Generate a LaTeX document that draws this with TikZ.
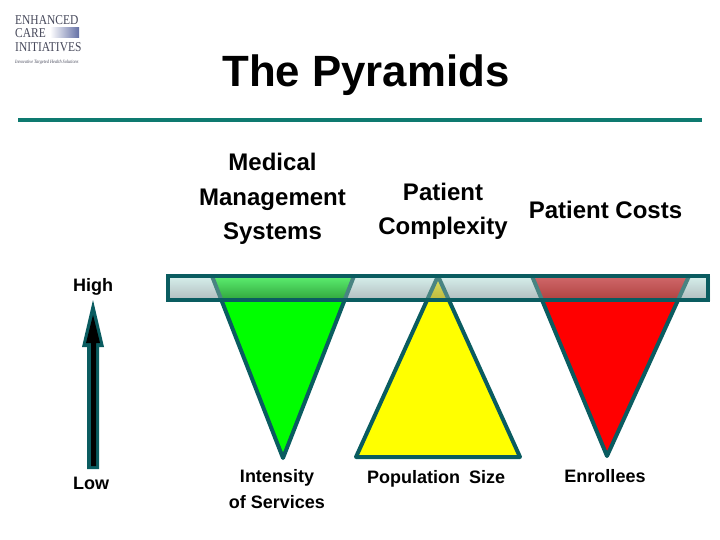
\documentclass[tikz,border=0pt]{standalone}
\usepackage{fontspec}
\setmainfont{Liberation Sans}
\newfontfamily\logofont[FakeStretch=0.85]{Liberation Serif}
\usepackage{xcolor}
\usetikzlibrary{arrows.meta, calc}
\definecolor{cTeal}{RGB}{10,92,96}
\definecolor{cEdge}{RGB}{72,132,130}
\definecolor{cRule}{RGB}{14,122,112}
\definecolor{cLogo}{RGB}{100,112,165}
\definecolor{cLogoText}{RGB}{70,72,90}
\definecolor{cBarTop}{RGB}{214,240,236}
\definecolor{cBarBot}{RGB}{178,188,190}
\definecolor{cGreen}{RGB}{0,255,0}
\definecolor{cGreenTop}{RGB}{92,238,112}
\definecolor{cGreenBot}{RGB}{48,165,60}
\definecolor{cYellow}{RGB}{255,255,0}
\definecolor{cYellowTop}{RGB}{218,225,100}
\definecolor{cYellowBot}{RGB}{190,185,60}
\definecolor{cRed}{RGB}{255,0,0}
\definecolor{cRedTop}{RGB}{208,104,106}
\definecolor{cRedBot}{RGB}{176,66,64}
\tikzset{
	pyramid/.style  ={draw=cTeal, line width=4pt, line join=round},
	barframe/.style ={draw=cTeal, line width=4pt},
	heading/.style  ={font=\bfseries\fontsize{24}{34.5}\selectfont, align=center},
	small/.style    ={font=\bfseries\fontsize{18}{26}\selectfont, align=center},
	logotxt/.style  ={font=\logofont\fontsize{13.5}{13.5}\selectfont, text=cLogoText, anchor=west, inner sep=0pt},
}
\begin{document}
\begin{tikzpicture}[x=1pt,y=-1pt]
	\useasboundingbox (0,0) rectangle (720,540);
	% logo
	\shade[left color=white, right color=cLogo] (50,28) rectangle (79,38);
	\node[logotxt] (logoA) at (15,20) {ENHANCED};
	\node[logotxt] (logoB) at (15,33.5) {CARE};
	\node[logotxt] (logoC) at (15,47) {INITIATIVES};
	\node[logotxt, font=\logofont\itshape\fontsize{5}{6}\selectfont] (logoD) at (15,62) {Innovative Targeted Health Solutions};
	% title
	\node[font=\bfseries\fontsize{43.8}{50}\selectfont] (title) at (366,75) {The Pyramids};
	\draw[cRule, line width=4pt] (18,120) -- (702,120);
	% headings
	\node[heading] (medical) at (272.5,199) {Medical\\Management\\Systems};
	\node[heading, font=\bfseries\fontsize{24}{34}\selectfont] (patient) at (443,211) {Patient\\Complexity};
	\node[heading] (costs) at (605.5,210) {Patient Costs};
	% pyramids
	\draw[pyramid, fill=cGreen] (212,276) -- (354,276) -- (283,458) -- cycle;
	\draw[pyramid, fill=cYellow] (438,276) -- (520,457) -- (356,457) -- cycle;
	\draw[pyramid, fill=cRed] (532,276) -- (689,276) -- (607,456) -- cycle;
	% bar on top
	\shade[top color=cBarTop, bottom color=cBarBot] (166,276) rectangle (710,300);
	\begin{scope}
		\clip (212,276) -- (354,276) -- (283,458) -- cycle;
		\shade[top color=cGreenTop, bottom color=cGreenBot] (166,276) rectangle (710,300);
	\end{scope}
	\begin{scope}
		\clip (438,276) -- (520,457) -- (356,457) -- cycle;
		\shade[top color=cYellowTop, bottom color=cYellowBot] (166,276) rectangle (710,300);
	\end{scope}
	\begin{scope}
		\clip (532,276) -- (689,276) -- (607,456) -- cycle;
		\shade[top color=cRedTop, bottom color=cRedBot] (166,276) rectangle (710,300);
	\end{scope}
	\begin{scope}
		\clip (166,276) rectangle (710,300);
		\draw[pyramid, draw=cEdge] (212,276) -- (283,458) (354,276) -- (283,458);
		\draw[pyramid, draw=cEdge] (356,457) -- (438,276) -- (520,457);
		\draw[pyramid, draw=cEdge] (532,276) -- (607,456) (689,276) -- (607,456);
	\end{scope}
	\draw[barframe] (168,276) rectangle (708,300);
	% scale arrow
	\node[small] (high) at (93,287) {High};
	\node[small] (low) at (91,483) {Low};
	\fill[cTeal] (87,469) -- (87,347) -- (82,347) -- (93,300) -- (104,347) -- (99,347) -- (99,469) -- cycle;
	\fill[black] (91,466) -- (91,343) -- (86,343) -- (93,315) -- (100,343) -- (96,343) -- (96,466) -- cycle;
	% labels
	\node[small] (intensity) at (277,489) {Intensity\\of Services};
	\node[small] (population) at (436,479) {Population\enspace Size};
	\node[small] (enrollees) at (605,476) {Enrollees};
\end{tikzpicture}
\end{document}
